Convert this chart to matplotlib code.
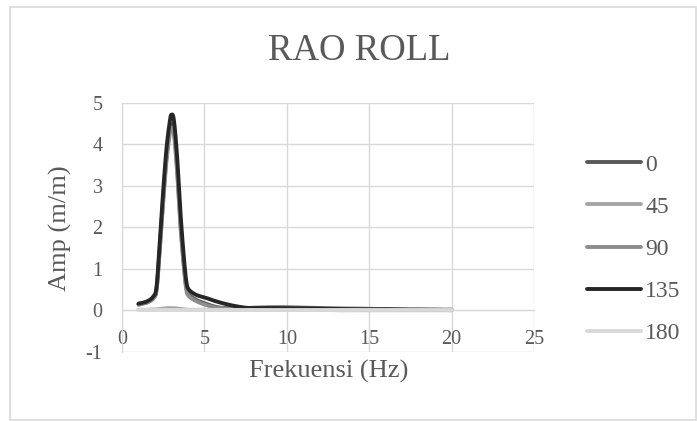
import numpy as np
import matplotlib
matplotlib.use("Agg")
import matplotlib.pyplot as plt
from matplotlib.patches import Rectangle

# ---- data ----
freq = [1.0, 1.5, 1.9, 2.1, 2.3, 2.5, 2.7, 2.9, 3.0, 3.15, 3.35, 3.55, 3.75, 3.9, 4.05,
        4.5, 5.0, 5.5, 6.0, 6.5, 7.0, 7.5, 8.0, 9.0, 10.0, 11.0, 12.0, 13.0, 14.0, 15.0,
        16.0, 17.0, 18.0, 19.0, 20.0]
s0 = [0.14, 0.19, 0.30, 0.52, 1.55, 2.70, 3.70, 4.35, 4.48, 4.35, 3.40, 2.10, 1.10, 0.55, 0.38,
      0.25, 0.17, 0.10, 0.06, 0.05, 0.05, 0.05, 0.06, 0.07, 0.07, 0.06, 0.05, 0.04, 0.04, 0.03,
      0.03, 0.02, 0.02, 0.01, 0.01]
s45 = [0.01, 0.01, 0.02, 0.02, 0.03, 0.04, 0.05, 0.05, 0.05, 0.05, 0.04, 0.03, 0.02, 0.02, 0.01,
       0.01, 0.01, 0.01, 0.01, 0.01, 0.01, 0.01, 0.01, 0.01, 0.01, 0.01, 0.01, 0.00, 0.00, 0.00,
       0.00, 0.00, 0.00, 0.00, 0.00]
s90 = [0.13, 0.18, 0.28, 0.50, 1.50, 2.60, 3.60, 4.25, 4.40, 4.25, 3.30, 2.00, 1.05, 0.50, 0.34,
       0.22, 0.14, 0.08, 0.05, 0.03, 0.03, 0.03, 0.03, 0.03, 0.03, 0.03, 0.02, 0.02, 0.02, 0.02,
       0.01, 0.01, 0.01, 0.01, 0.00]
s135 = [0.16, 0.21, 0.33, 0.58, 1.69, 2.88, 3.90, 4.55, 4.71, 4.58, 3.67, 2.33, 1.29, 0.70, 0.50,
        0.37, 0.31, 0.24, 0.18, 0.13, 0.09, 0.06, 0.05, 0.05, 0.04, 0.04, 0.03, 0.03, 0.02, 0.02,
        0.02, 0.01, 0.01, 0.01, 0.01]
s180 = [0.00] * len(freq)
series_names = ["0", "45", "90", "135", "180"]
series_vals = [s0, s45, s90, s135, s180]
colors = ["#595959", "#A5A5A5", "#8C8C8C", "#262626", "#D9D9D9"]
x_ticks = [0, 5, 10, 15, 20, 25]
y_ticks = [-1, 0, 1, 2, 3, 4, 5]


def smooth(x, y, n=12):
    """Excel-like smoothed line (Catmull-Rom Bezier) through the points."""
    x = np.asarray(x, float)
    y = np.asarray(y, float)
    px, py = [], []
    m = len(x)
    for i in range(m - 1):
        x0, y0 = (x[i - 1], y[i - 1]) if i > 0 else (x[i], y[i])
        x3, y3 = (x[i + 2], y[i + 2]) if i + 2 < m else (x[i + 1], y[i + 1])
        x1, y1 = x[i], y[i]
        x2, y2 = x[i + 1], y[i + 1]
        c1x, c1y = x1 + (x2 - x0) / 6, y1 + (y2 - y0) / 6
        c2x, c2y = x2 - (x3 - x1) / 6, y2 - (y3 - y1) / 6
        t = np.linspace(0, 1, n, endpoint=(i == m - 2))
        b0, b1, b2, b3 = (1 - t) ** 3, 3 * (1 - t) ** 2 * t, 3 * (1 - t) * t ** 2, t ** 3
        px.extend(b0 * x1 + b1 * c1x + b2 * c2x + b3 * x2)
        py.extend(b0 * y1 + b1 * c1y + b2 * c2y + b3 * y2)
    return np.array(px), np.array(py)


plt.rcParams['font.family'] = ['Liberation Serif', 'DejaVu Serif']
plt.rcParams['axes.unicode_minus'] = False
txt = "#595959"
grid_c = "#D9D9D9"

fig = plt.figure(figsize=(6.97, 4.21), dpi=100)
fig.patches.append(Rectangle((9.5 / 697, 1 - 419.5 / 421), (696 - 9.5) / 697, (419.5 - 6.5) / 421,
                             transform=fig.transFigure, fill=False, edgecolor=grid_c, lw=1.2))

ax = fig.add_axes([122 / 697, 1 - 351.7 / 421, (534 - 122) / 697, (351.7 - 102.7) / 421])
ax.set_xlim(0, 25)
ax.set_ylim(-1, 5)
ax.set_xticks(x_ticks)
ax.set_yticks(y_ticks)
ax.grid(True, color=grid_c, lw=1)
ax.set_axisbelow(True)
for s in ["top", "right"]:
    ax.spines[s].set_visible(False)
ax.spines["left"].set_color(grid_c)
ax.spines["bottom"].set_color(grid_c)
ax.spines["bottom"].set_position(("data", 0))
ax.tick_params(axis="both", length=0, labelsize=14.5, labelcolor=txt)
ax.tick_params(axis="y", pad=14)
ax.tick_params(axis="x", pad=14)

handles = []
for name, vals, c in zip(series_names, series_vals, colors):
    sx, sy = smooth(freq, vals)
    h, = ax.plot(sx, sy, color=c, lw=2.8, solid_capstyle="round", solid_joinstyle="round", label=name)
    handles.append(h)

fig.text(359 / 697, 1 - 60 / 421, "RAO ROLL", ha="center", va="baseline", fontsize=26.5, color=txt)
fig.text(329 / 697, 1 - 371 / 421, "Frekuensi (Hz)", ha="center", va="center", fontsize=19, color=txt)
fig.text(60 / 697, 1 - 228 / 421, "Amp (m/m)", ha="center", va="center", rotation=90, fontsize=19, color=txt)

leg = fig.legend(handles=handles, loc="center left", bbox_to_anchor=(587 / 697, 1 - 249 / 421),
                 frameon=False, fontsize=17, handlelength=2.3, handletextpad=0.17,
                 labelspacing=0.87, borderpad=0, borderaxespad=0)
for t in leg.get_texts():
    t.set_color(txt)

fig.savefig("out.png", dpi=100)
